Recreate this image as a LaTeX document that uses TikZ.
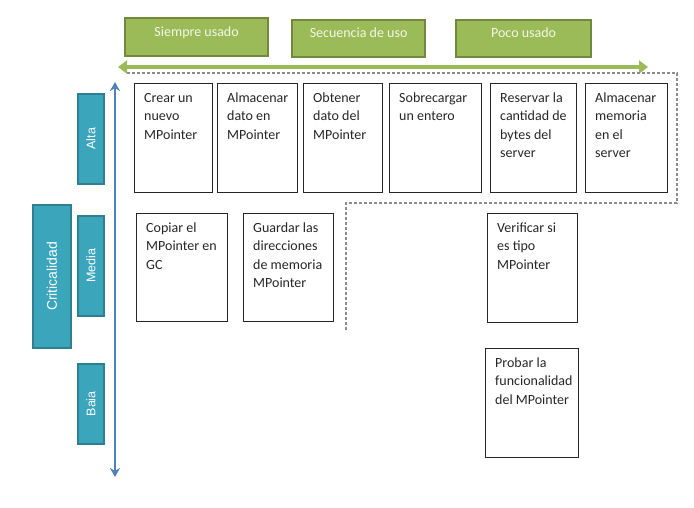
\documentclass[tikz,border=0pt]{standalone}
\usepackage{fontspec}
\setmainfont{Carlito}
\newfontfamily\arialf{Liberation Sans}
\usetikzlibrary{arrows.meta}
\definecolor{gfill}{HTML}{9BBB59}
\definecolor{gdraw}{HTML}{71893F}
\definecolor{tfill}{HTML}{3BA5BC}
\definecolor{tdraw}{HTML}{2E7F92}
\definecolor{barrow}{HTML}{4F81BD}
\definecolor{dgray}{HTML}{8C8C8C}
\definecolor{gtext}{HTML}{F2F7E6}
\tikzset{
  greenbox/.style={draw=gdraw, fill=gfill, line width=2.2pt, inner sep=0pt,
    text=gtext, font=\fontsize{14}{16}\selectfont, text height=10pt, text depth=12pt},
  tealbox/.style={draw=tdraw, fill=tfill, line width=1.6pt, inner sep=0pt},
  tealtext/.style={text=white, rotate=90, font=\arialf\fontsize{12.5}{15}\selectfont, inner sep=0pt},
  itembox/.style={draw=black!85, line width=0.9pt, inner sep=0pt},
  itemtext/.style={anchor=north west, align=left, inner sep=0pt, text=black!85,
    font=\fontsize{14}{18.5}\selectfont},
  dashline/.style={draw=dgray, line width=1.1pt, dash pattern=on 3pt off 2pt},
}
\newcommand{\rbox}[6]{% name, x1, y1, x2, y2, text
  \node[itembox, minimum width=#4-#2, minimum height=#5-#3, anchor=north west] (#1) at (#2,#3) {};
  \node[itemtext] (#1t) at ([xshift=10pt,yshift=-6pt]#1.north west) {\strut #6};
}
\begin{document}
\begin{tikzpicture}[x=1pt,y=-1pt]
\useasboundingbox (0,0) rectangle (694,508);

% top green boxes
\node[greenbox, minimum width=143, minimum height=38, anchor=north west] (g1) at (124,17) {Siempre usado};
\node[greenbox, minimum width=133, minimum height=37, anchor=north west] (g2) at (291,19) {Secuencia de uso};
\node[greenbox, minimum width=135, minimum height=37, anchor=north west] (g3) at (455,19) {Poco usado};

% green horizontal arrow
\coordinate (gl) at (118,67);
\coordinate (gr) at (648,67);
\draw[gfill, line width=3.5pt, {Triangle[length=9pt,width=13pt]}-{Triangle[length=9pt,width=13pt]}] (gl) -- (gr);

% dashed region
\coordinate (d1) at (127,73);
\coordinate (d2) at (677,73);
\coordinate (d3) at (677,203);
\coordinate (d4) at (346,203);
\coordinate (d5) at (346,330);
\draw[dashline] (d1) -- (d2) -- (d3) -- (d4) -- (d5);

% blue vertical arrow
\coordinate (bt) at (115,82);
\coordinate (bb) at (115,477);
\draw[barrow, line width=2.6pt, {Stealth[length=9pt,width=10pt]}-{Stealth[length=9pt,width=10pt]}] (bt) -- (bb);

% teal boxes
\node[tealbox, minimum width=26, minimum height=90, anchor=north west] (alta) at (77,93) {};
\node[tealtext] (altat) at (alta.center) {Alta};
\node[tealbox, minimum width=26, minimum height=100, anchor=north west] (media) at (77,215) {};
\node[tealtext] (mediat) at (media.center) {Media};
\node[tealbox, minimum width=26, minimum height=80, anchor=north west] (baja) at (77,363) {};
\node[tealtext] (bajat) at (baja.center) {Baia};
\node[tealbox, minimum width=38, minimum height=143, anchor=north west] (crit) at (32,204) {};
\node[tealtext, font=\arialf\fontsize{14}{16}\selectfont] (critt) at (crit.center) {Criticalidad};

% item boxes row 1
\rbox{b1}{134}{83}{212}{192}{Crear un\\nuevo\\MPointer}
\rbox{b2}{217}{83}{297}{192}{Almacenar\\dato en\\MPointer}
\rbox{b3}{303}{83}{382}{192}{Obtener\\dato del\\MPointer}
\rbox{b4}{389}{83}{481}{192}{Sobrecargar\\un entero}
\rbox{b5}{490}{83}{576}{192}{Reservar la\\cantidad de\\bytes del\\server}
\rbox{b6}{585}{83}{667}{192}{Almacenar\\memoria\\en el\\server}
% row 2
\rbox{b7}{136}{213}{227}{321}{Copiar el\\MPointer en\\GC}
\rbox{b8}{243}{213}{333}{321}{Guardar las\\direcciones\\de memoria\\MPointer}
\rbox{b9}{487}{213}{577}{322}{Verificar si\\es tipo\\MPointer}
% row 3
\rbox{b10}{485}{348}{578}{457}{Probar la\\funcionalidad\\del MPointer}
\end{tikzpicture}
\end{document}
